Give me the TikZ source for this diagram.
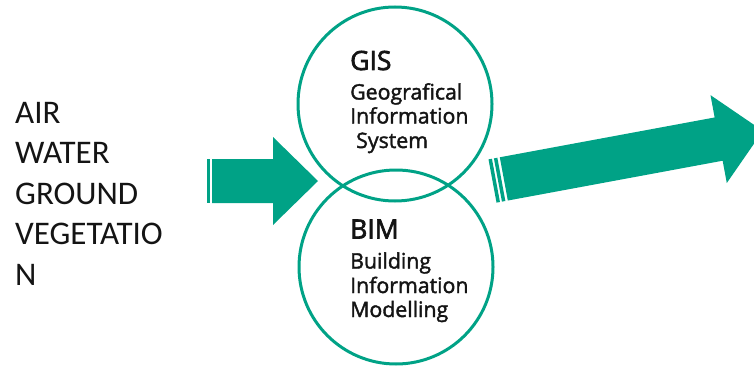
\documentclass[tikz,border=0pt]{standalone}
\usepackage{fontspec}
\setmainfont{Open Sans}[FakeBold=1.8]
\newfontfamily\headfont{Open Sans}[FakeBold=2.6]
\newfontfamily\calib{Carlito}
\definecolor{tealg}{RGB}{0,162,134}
\definecolor{txt}{RGB}{20,20,20}
\tikzset{
  ring/.style={circle, draw=tealg, line width=3pt, minimum size=194pt, inner sep=0pt},
  lefttxt/.style={anchor=base west, inner sep=0pt, text=txt, font=\calib\fontsize{33}{36}\selectfont},
  headtxt/.style={anchor=base west, inner sep=0pt, text=txt, font=\headfont\fontsize{26.5}{30}\selectfont},
  subtxt/.style={anchor=base west, inner sep=0pt, text=txt, font=\fontsize{21.3}{25}\selectfont},
  blockarrow/.style={fill=tealg, draw=none}
}
\begin{document}
\begin{tikzpicture}[x=1pt,y=-1pt]
\useasboundingbox (0,0) rectangle (754,369);
\clip (0,0) rectangle (754,369);
% left text
\node[lefttxt] (t1) at (15,123) {AIR};
\node[lefttxt] (t2) at (15,163.5) {WATER};
\node[lefttxt] (t3) at (15,204) {GROUND};
\node[lefttxt] (t4) at (15,244.5) {VEGETATIO};
\node[lefttxt] (t5) at (15,285) {N};
% left arrow
\fill[blockarrow] (207,159) rectangle (210,203);
\fill[blockarrow] (212,159) -- (273,159) -- (273,137) -- (318,181) -- (273,225) -- (273,203) -- (212,203) -- cycle;
% circles
\node[ring] (gis) at (395,104) {};
\node[ring] (bim) at (396,267) {};
% circle texts
\node[headtxt] (g0) at (350,70) {GIS};
\node[subtxt] (g1) at (350,99.5) {Geografical};
\node[subtxt] (g2) at (350,123.5) {Information};
\node[subtxt] (g3) at (356,148) {System};
\node[headtxt] (b0) at (350,238.5) {BIM};
\node[subtxt] (b1) at (350,268.5) {Building};
\node[subtxt] (b2) at (350,293) {Information};
\node[subtxt] (b3) at (350,317) {Modelling};
% right arrow
\begin{scope}[shift={(492.5,181)}, rotate=10.5]
\fill[blockarrow] (0,-22) rectangle (3.5,22);
\fill[blockarrow] (5.5,-22) rectangle (9,22);
\fill[blockarrow] (11.5,-22) -- (230,-22) -- (230,-44.7) -- (275,0) -- (230,44.7) -- (230,22) -- (11.5,22) -- cycle;
\end{scope}
\end{tikzpicture}
\end{document}
